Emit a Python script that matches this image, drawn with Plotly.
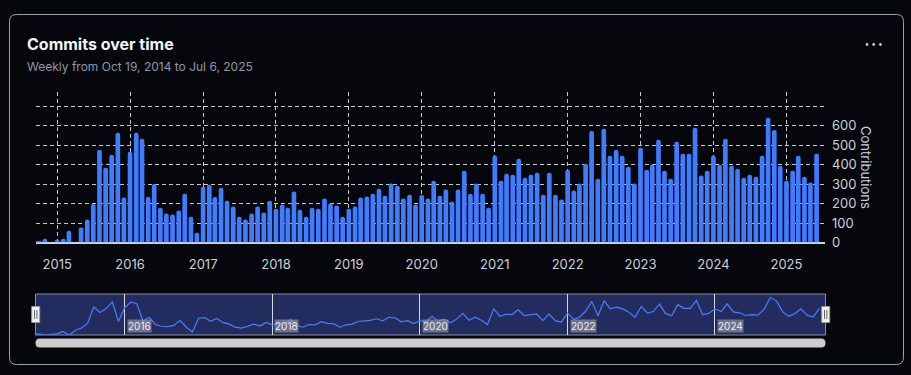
import pandas as pd
import plotly.graph_objects as go

# ---------------- data ----------------
start_month = "2014-10-01"
contributions = [
    5, 19, 0,
    15, 19, 60, 0, 77, 118, 198, 477, 385, 451, 564, 231,
    467, 564, 533, 234, 301, 179, 149, 144, 164, 251, 133, 50,
    287, 297, 234, 282, 215, 185, 133, 118, 149, 185, 154, 215,
    174, 195, 179, 262, 169, 133, 179, 174, 226, 200, 190, 133,
    174, 185, 231, 236, 251, 277, 241, 303, 292, 226, 246, 195,
    244, 226, 318, 241, 272, 210, 272, 369, 251, 303, 251, 179,
    446, 318, 354, 349, 431, 333, 349, 359, 246, 359, 246, 221,
    374, 267, 303, 405, 574, 328, 585, 446, 477, 446, 390, 303,
    487, 374, 400, 528, 369, 328, 518, 456, 456, 590, 344, 369,
    446, 400, 533, 395, 379, 333, 349, 338, 446, 641, 579, 395,
    318, 369, 446, 338, 308, 456,
]
months = pd.date_range(start_month, periods=len(contributions), freq="MS")

y_tick_values = [0, 100, 200, 300, 400, 500, 600, 700]
y_tick_labels = ["0", "100", "200", "300", "400", "500", "600", ""]
nav_years = ["2016", "2018", "2020", "2022", "2024"]
x_range = ["2014-09-17", "2025-07-13"]
nav_range = ["2014-10-19", "2025-07-06"]

title_text = "Commits over time"
subtitle_text = "Weekly from Oct 19, 2014 to Jul 6, 2025"
y_title = "Contributions"

# ---------------- style ----------------
W, H = 911, 375
BG = "#05070c"
BAR = "#3f7cff"
TXT = "#c9d1d9"
FONT = "Inter, Roboto, sans-serif"


def px(x):
    return x / W


def py(y):
    return 1 - y / H


def rounded_path(x0, y0, x1, y1, r):
    X0, X1, Y0, Y1 = px(x0), px(x1), py(y0), py(y1)
    rx, ry = r / W, r / H
    return (f"M {X0+rx},{Y0} L {X1-rx},{Y0} Q {X1},{Y0} {X1},{Y0-ry} "
            f"L {X1},{Y1+ry} Q {X1},{Y1} {X1-rx},{Y1} L {X0+rx},{Y1} "
            f"Q {X0},{Y1} {X0},{Y1+ry} L {X0},{Y0-ry} Q {X0},{Y0} {X0+rx},{Y0} Z")


fig = go.Figure()

fig.add_trace(go.Bar(
    x=months, y=contributions,
    marker=dict(color=BAR, line=dict(width=0), cornerradius=2),
    width=23.4 * 86400000,
    xaxis="x", yaxis="y", showlegend=False,
))

fig.add_trace(go.Scatter(
    x=months, y=contributions, mode="lines",
    line=dict(color="#4a7dff", width=1.2),
    xaxis="x2", yaxis="y2", showlegend=False,
))

dom_x = [px(36), px(825)]

fig.update_layout(
    width=W, height=H, autosize=False,
    margin=dict(l=0, r=0, t=0, b=0, pad=0, autoexpand=False),
    paper_bgcolor=BG, plot_bgcolor="rgba(0,0,0,0)",
    font=dict(family=FONT, color=TXT, size=13),
    bargap=0.2,
    xaxis=dict(
        domain=dom_x, anchor="y", type="date", range=x_range, automargin=False,
        tick0="2015-01-01", dtick="M12", tickformat="%Y",
        showgrid=True, gridcolor="#c3c8cf", gridwidth=1, griddash="4px,3px",
        zeroline=False, showline=False, ticks="",
        ticklabelstandoff=12, tickfont=dict(size=13, color=TXT),
    ),
    yaxis=dict(
        domain=[py(242.5), py(92)], anchor="x", side="right", automargin=False,
        range=[0, 774], tickvals=y_tick_values, ticktext=y_tick_labels,
        showgrid=True, gridcolor="#c3c8cf", gridwidth=1, griddash="4px,3px",
        zeroline=True, zerolinecolor="#d0d5dc", zerolinewidth=1.5,
        ticks="", ticklabelstandoff=6, tickfont=dict(size=13, color=TXT),
    ),
    xaxis2=dict(
        domain=[px(36), px(826.5)], anchor="y2", type="date", range=nav_range,
        automargin=False,
        tickvals=[f"{y}-01-01" for y in nav_years],
        showgrid=True, gridcolor="#d6dae0", gridwidth=1,
        showticklabels=False, zeroline=False, showline=False, ticks="",
    ),
    yaxis2=dict(
        domain=[py(335), py(294)], anchor="x2", range=[0, 700], automargin=False,
        visible=False, showgrid=False,
    ),
)

shapes = []
# card border
shapes.append(dict(type="path", xref="paper", yref="paper",
                   path=rounded_path(9.5, 14.5, 903.5, 364.5, 7),
                   line=dict(color="#9aa1aa", width=1), fillcolor="rgba(0,0,0,0)",
                   layer="below"))
# navigator background
shapes.append(dict(type="rect", xref="paper", yref="y2 domain",
                   x0=px(35.5), x1=px(825.5), y0=0, y1=1, fillcolor="#232c5e",
                   line=dict(color="#8a8f99", width=1), layer="below"))
# scrollbar
shapes.append(dict(type="path", xref="paper", yref="paper",
                   path=rounded_path(35.5, 338.5, 825.5, 347.5, 4.5),
                   fillcolor="#cccccc", line=dict(width=0), layer="above"))
# navigator handles
for anchor in (px(35.7), px(825.7)):
    shapes.append(dict(type="rect", xref="paper", yref="y2 domain",
                       xsizemode="pixel", ysizemode="pixel",
                       xanchor=anchor, yanchor=0.5,
                       x0=-4, x1=4, y0=-8, y1=8,
                       fillcolor="#f2f2f2", line=dict(color="#9a9a9a", width=1),
                       layer="above"))
    for dx in (-1.2, 1.2):
        shapes.append(dict(type="line", xref="paper", yref="y2 domain",
                           xsizemode="pixel", ysizemode="pixel",
                           xanchor=anchor, yanchor=0.5,
                           x0=dx, x1=dx, y0=-4.5, y1=4.5,
                           line=dict(color="#666666", width=1), layer="above"))
# menu dots
for cx in (867, 873.7, 880.4):
    shapes.append(dict(type="circle", xref="paper", yref="paper",
                       xsizemode="pixel", ysizemode="pixel",
                       xanchor=px(cx), yanchor=py(44.5),
                       x0=-1.4, x1=1.4, y0=-1.4, y1=1.4,
                       fillcolor="#c9d1d9", line=dict(width=0)))
fig.update_layout(shapes=shapes)

annotations = [
    dict(text=f"<b>{title_text}</b>", xref="paper", yref="paper",
         x=px(25), y=py(43.5), xanchor="left", yanchor="middle",
         showarrow=False, font=dict(size=16, color="#f0f6fc", family=FONT)),
    dict(text=subtitle_text, xref="paper", yref="paper",
         x=px(25), y=py(67), xanchor="left", yanchor="middle",
         showarrow=False, font=dict(size=12, color="#9198a1", family=FONT)),
    dict(text=y_title, xref="paper", yref="paper",
         x=px(866), y=py(167), xanchor="center", yanchor="middle",
         textangle=90, showarrow=False, font=dict(size=13, color=TXT, family=FONT)),
]
for yr in nav_years:
    annotations.append(dict(
        text=yr, xref="x2", yref="y2 domain", x=f"{yr}-01-01", y=0,
        xanchor="left", yanchor="bottom", xshift=2, yshift=2,
        showarrow=False, bgcolor="rgba(150,152,165,0.65)", borderpad=0,
        font=dict(size=10, color="#eeeeee", family=FONT)))
fig.update_layout(annotations=annotations)

fig.write_html(
    "out.html",
    config={"responsive": False, "displayModeBar": False},
    post_script="document.body.style.margin='0';document.body.style.background='" + BG + "';",
)
